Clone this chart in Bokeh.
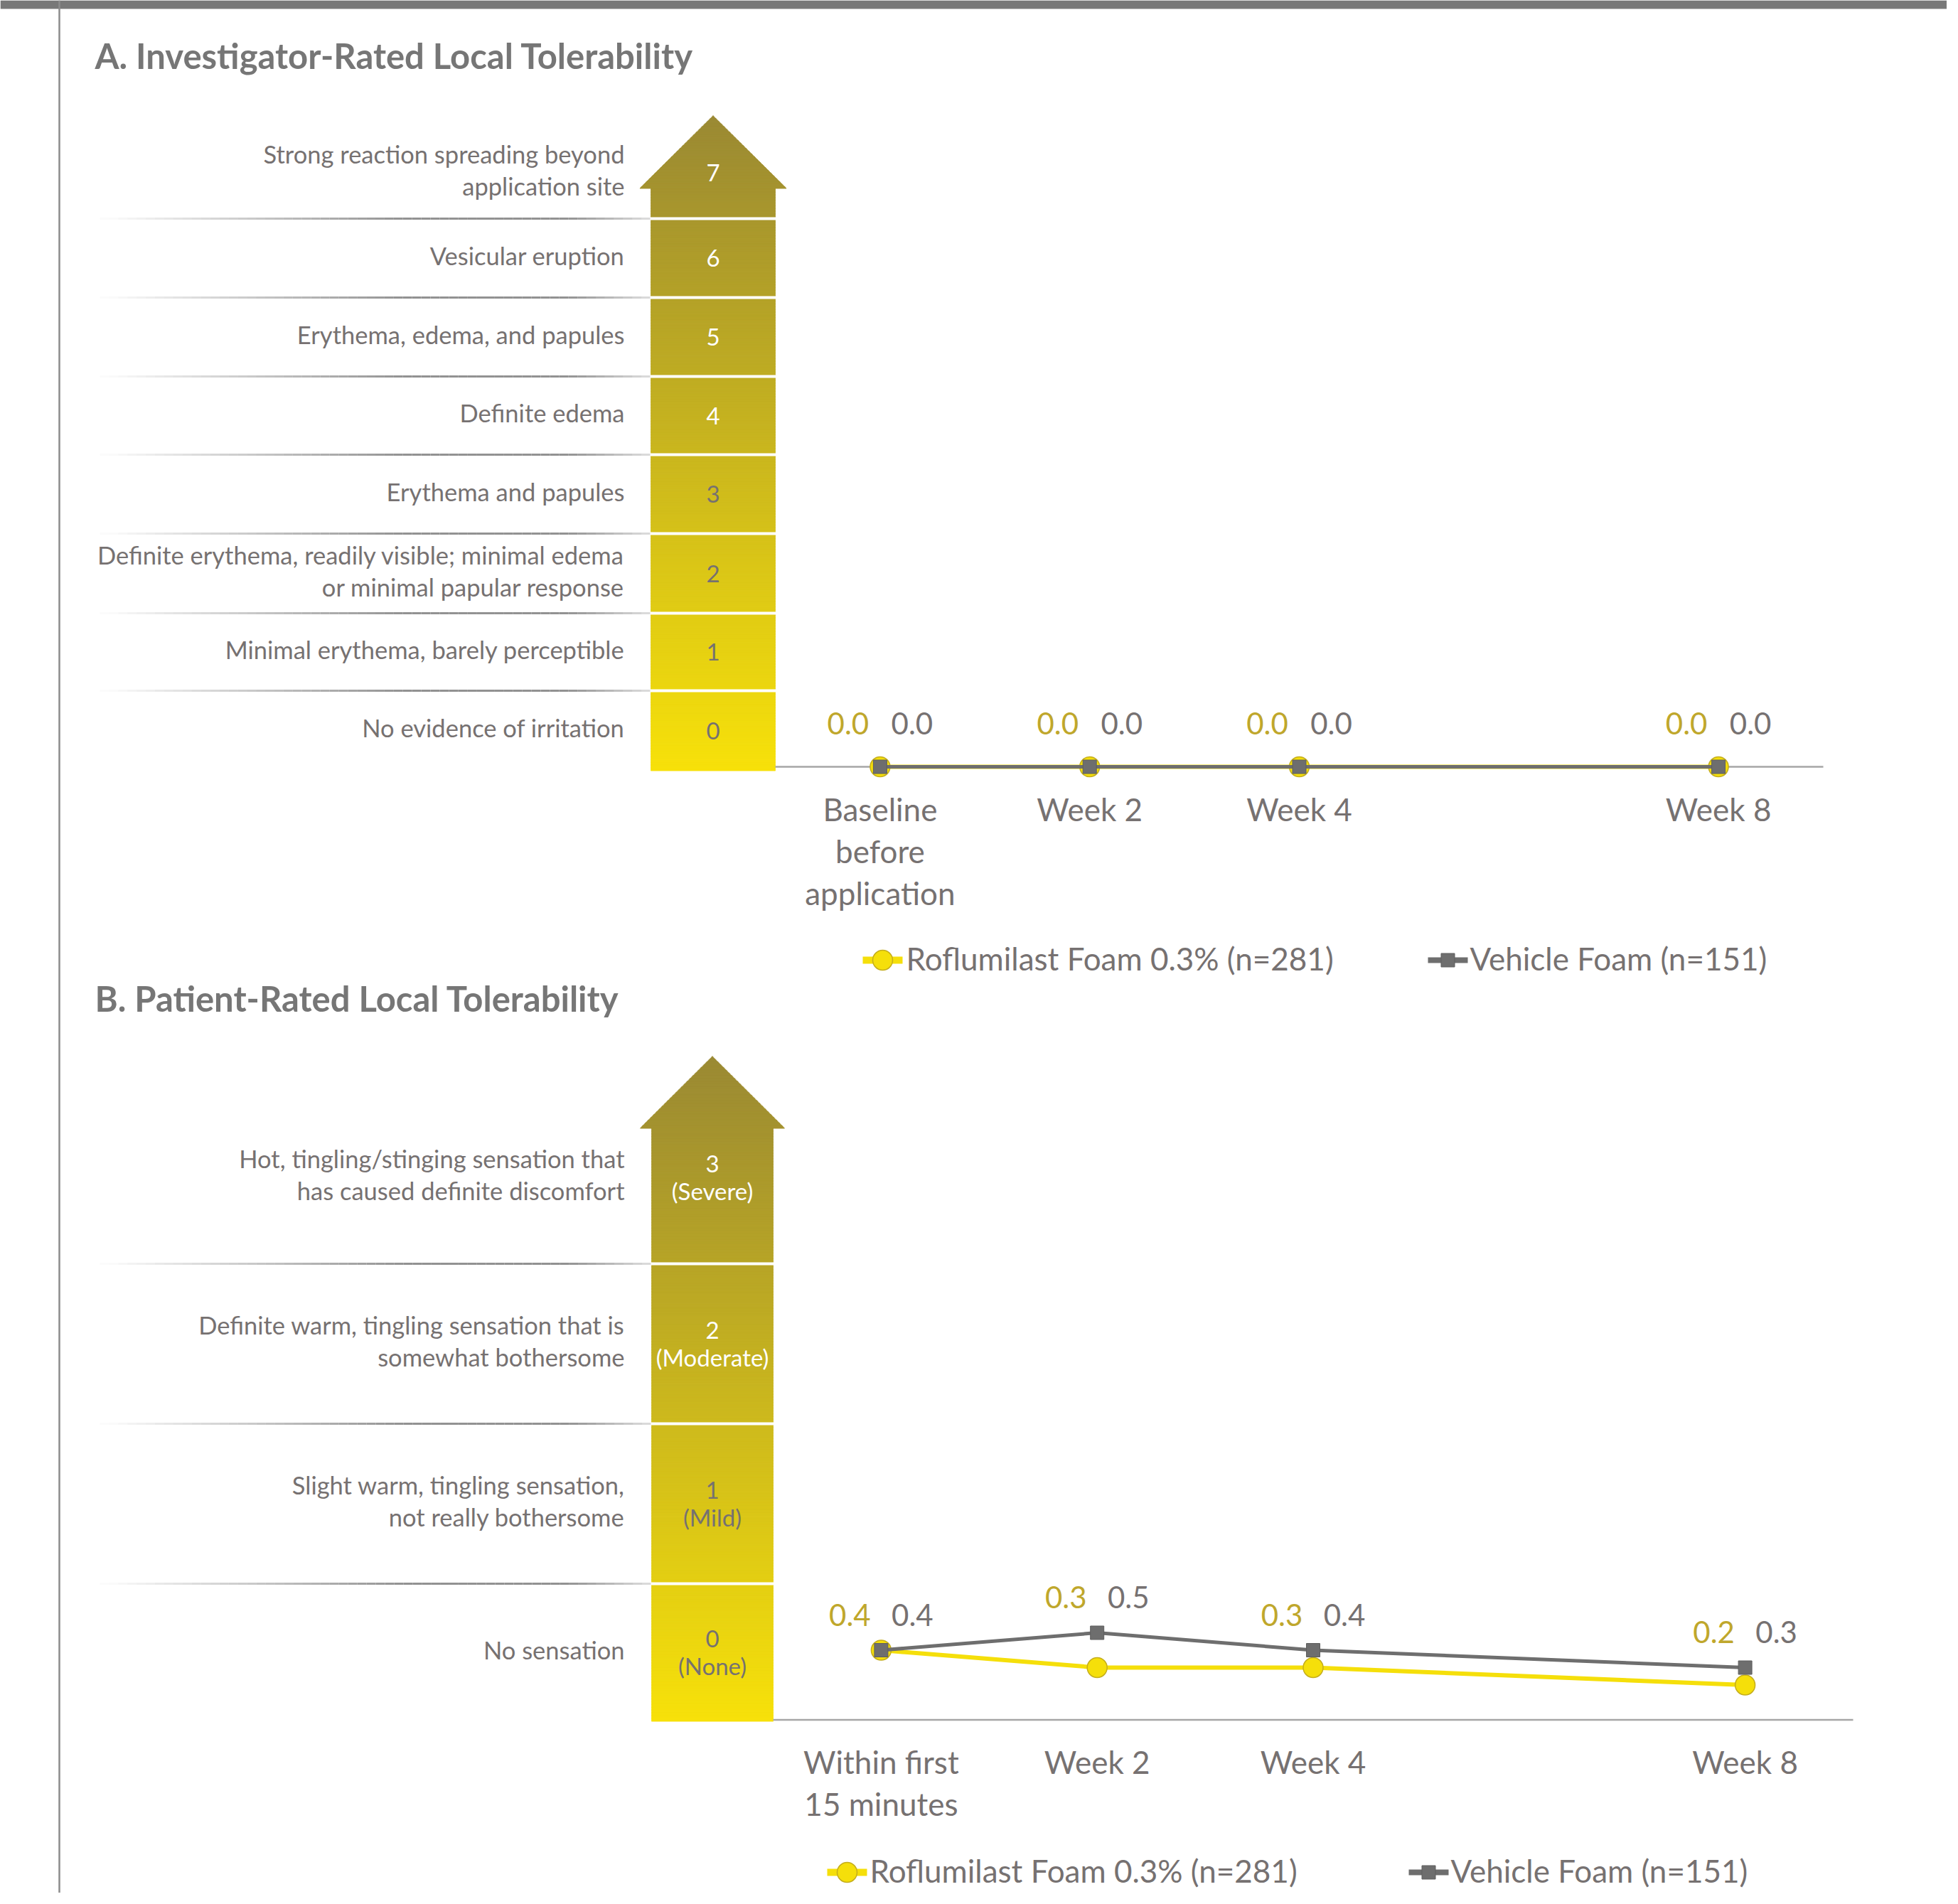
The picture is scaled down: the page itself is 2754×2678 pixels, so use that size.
import numpy as np
from bokeh.plotting import figure
from bokeh.models import Range1d, ColumnDataSource
from bokeh.core.properties import value
from bokeh.embed import file_html
from bokeh.resources import INLINE

# ---------------- data ----------------
title_A = "A. Investigator-Rated Local Tolerability"
title_B = "B. Patient-Rated Local Tolerability"

scale_A_levels = ["0", "1", "2", "3", "4", "5", "6", "7"]
scale_A_labels = [
    "No evidence of irritation",
    "Minimal erythema, barely perceptible",
    "Definite erythema, readily visible; minimal edema\nor minimal papular response",
    "Erythema and papules",
    "Definite edema",
    "Erythema, edema, and papules",
    "Vesicular eruption",
    "Strong reaction spreading beyond\napplication site",
]
scale_B_levels = ["0\n(None)", "1\n(Mild)", "2\n(Moderate)", "3\n(Severe)"]
scale_B_labels = [
    "No sensation",
    "Slight warm, tingling sensation,\nnot really bothersome",
    "Definite warm, tingling sensation that is\nsomewhat bothersome",
    "Hot, tingling/stinging sensation that\nhas caused definite discomfort",
]

weeks = [0, 2, 4, 8]
cats_A = ["Baseline\nbefore\napplication", "Week 2", "Week 4", "Week 8"]
cats_B = ["Within first\n15 minutes", "Week 2", "Week 4", "Week 8"]
rofl_A = [0.0, 0.0, 0.0, 0.0]
veh_A = [0.0, 0.0, 0.0, 0.0]
rofl_B = [0.4, 0.3, 0.3, 0.2]
veh_B = [0.4, 0.5, 0.4, 0.3]
series_names = ["Roflumilast Foam 0.3% (n=281)", "Vehicle Foam (n=151)"]

# ---------------- style ----------------
FONT = value("Lato")
GRAY_TXT = "#767171"
TITLE_C = "#767676"
YEL = "#f5df0a"
YEL_EDGE = "#c4ad1c"
YEL_TXT = "#bfa72c"
VEH = "#6e6e6e"
AXIS_C = "#a6a6a6"
TOP_C = (154, 137, 51)
BOT_C = (247, 225, 10)

W, H = 2738, 2662
OFF = 0

p = figure(width=W, height=H, x_range=Range1d(OFF, OFF + W), y_range=Range1d(OFF + H, OFF),
           output_backend="svg", toolbar_location=None, x_axis_location=None,
           y_axis_location=None, min_border=0, outline_line_color=None)
p.grid.visible = False
p.background_fill_color = "white"
p.border_fill_color = "white"

# page frame decorations
p.quad(left=[0], right=[2754], top=[0], bottom=[12], fill_color="#787878", line_color=None)
p.segment(x0=[83], x1=[83], y0=[0], y1=[2678], line_color="#8c8c8c", line_width=2.5)


def arrow(xl, xr, hxl, hxr, tip, head_base, bottom, n=240):
    ys = np.unique(np.concatenate([np.linspace(tip, bottom, n + 1), [head_base]]))
    xs_l, ys_l, cols = [], [], []
    xc = (xl + xr) / 2
    for y0, y1 in zip(ys[:-1], ys[1:]):
        if y1 <= head_base + 1e-9:
            h0 = (hxr - hxl) / 2 * (y0 - tip) / (head_base - tip)
            h1 = (hxr - hxl) / 2 * (y1 - tip) / (head_base - tip)
        else:
            h0 = h1 = (xr - xl) / 2
        xs_l.append([xc - h0, xc + h0, xc + h1, xc - h1])
        ys_l.append([y0, y0, y1 + 0.6, y1 + 0.6])
        t = ((y0 + y1) / 2 - tip) / (bottom - tip)
        c = tuple(int(round(a + (b - a) * t)) for a, b in zip(TOP_C, BOT_C))
        cols.append("#%02x%02x%02x" % c)
    p.patches(xs=xs_l, ys=ys_l, fill_color=cols, line_color=cols, line_width=0.8)


def separators(seps, x_start, xl, xr):
    n = 60
    xs = np.linspace(x_start, xl, n + 1)
    for y in seps:
        x0s, x1s, alphas = [], [], []
        for a, b in zip(xs[:-1], xs[1:]):
            t = ((a + b) / 2 - x_start) / (xl - x_start)
            if t < 0.55:
                al = t / 0.55
            elif t < 0.85:
                al = 1.0
            else:
                al = 1.0 - (t - 0.85) / 0.15 * 0.7
            x0s.append(a); x1s.append(b); alphas.append(max(0.03, al) * 0.85)
        p.segment(x0=x0s, x1=x1s, y0=[y] * n, y1=[y] * n, line_color="#7f7f7f",
                  line_alpha=alphas, line_width=3)
        p.segment(x0=[xl - 1], x1=[xr + 1], y0=[y], y1=[y], line_color="white", line_width=4)


def multiline_text(x, yc, txt, spacing, **kw):
    lines = txt.split("\n")
    n = len(lines)
    ys = [yc + (i - (n - 1) / 2) * spacing for i in range(n)]
    p.text(x=[x] * n, y=ys, text=lines, text_font=FONT, text_baseline="middle", **kw)


def scale_panel(levels, labels, seps, bottom, tip, head_base, xl, xr, hxl, hxr, n_white,
                num_spacing, num_size):
    arrow(xl, xr, hxl, hxr, tip, head_base, bottom)
    separators(seps, 140, xl, xr)
    bounds = [bottom] + list(seps)
    xc = (xl + xr) / 2
    for k, (lev, lab) in enumerate(zip(levels, labels)):
        if k < len(seps):
            yc = (bounds[k] + bounds[k + 1]) / 2
        else:
            h = bounds[k - 1] - bounds[k]
            yc = bounds[k] - h / 2 - 9
        multiline_text(878, yc - 4, lab, 45, text_align="right", text_color=GRAY_TXT,
                       text_font_size="34.5px")
        col = "white" if k >= len(levels) - n_white else GRAY_TXT
        multiline_text(xc, yc, lev, num_spacing, text_align="center", text_color=col,
                       text_font_size=num_size)


# ---------------- titles ----------------
p.text(x=[133], y=[77], text=[title_A], text_font=FONT, text_font_style="bold",
       text_font_size="49px", text_color=TITLE_C, text_baseline="middle")
p.text(x=[133], y=[1403], text=[title_B], text_font=FONT, text_font_style="bold",
       text_font_size="49px", text_color=TITLE_C, text_baseline="middle")

# ---------------- scales (arrows) ----------------
scale_panel(scale_A_levels, scale_A_labels, [971, 862, 750, 639, 529, 418, 307],
            1083, 162, 264, 915, 1090, 900, 1106, 4, 38, "33px")
scale_panel(scale_B_levels, scale_B_labels, [2227, 2002, 1777],
            2420, 1485, 1586, 916, 1087, 900, 1103, 2, 38, "33px")


# ---------------- line charts ----------------
def chart(name, px_left, px_right, px_zero, px_per_unit, x_lo, x_hi, cats, rofl, veh,
          lab_dx, lab_dy, legend_y, legend_x):
    sx = (px_right - px_left) / (x_hi - x_lo)
    a = px_left - sx * x_lo
    p.extra_x_ranges[name] = Range1d((OFF - a) / sx, (OFF + W - a) / sx)
    p.extra_y_ranges[name] = Range1d((px_zero - (OFF + H)) / px_per_unit,
                                     (px_zero - OFF) / px_per_unit)
    rn = dict(x_range_name=name, y_range_name=name)
    # axis line
    p.segment(x0=[x_lo], x1=[x_hi], y0=[0], y1=[0], line_color=AXIS_C, line_width=2.5, **rn)
    src = ColumnDataSource(dict(x=weeks, r=rofl, v=veh, top=[max(r, v) for r, v in zip(rofl, veh)],
                                rl=["%.1f" % r for r in rofl], vl=["%.1f" % v for v in veh]))
    p.line("x", "r", source=src, line_color=YEL, line_width=6, **rn)
    p.scatter("x", "r", source=src, marker="circle", size=28, fill_color=YEL,
              line_color=YEL_EDGE, line_width=1.5, **rn)
    p.line("x", "v", source=src, line_color=VEH, line_width=5, **rn)
    p.scatter("x", "v", source=src, marker="square", size=19, fill_color=VEH,
              line_color="#5e5e5e", line_width=1, **rn)
    # data labels
    p.text("x", "top", text="rl", source=src, x_offset=-lab_dx, y_offset=-lab_dy,
           text_align="center", text_baseline="middle", text_font=FONT,
           text_font_size="42px", text_color=YEL_TXT, **rn)
    p.text("x", "top", text="vl", source=src, x_offset=lab_dx, y_offset=-lab_dy,
           text_align="center", text_baseline="middle", text_font=FONT,
           text_font_size="42px", text_color=GRAY_TXT, **rn)
    # category labels
    cx, cy, ct, co = [], [], [], []
    for w, c in zip(weeks, cats):
        for i, line in enumerate(c.split("\n")):
            cx.append(w); cy.append(0); ct.append(line); co.append(59 + 59 * i)
    p.text(x=cx, y=cy, text=ct, y_offset=co, text_align="center", text_baseline="middle",
           text_font=FONT, text_font_size="44px", text_color=GRAY_TXT, **rn)
    # legend
    for (x_mid, tx), nm, kind in zip(legend_x, series_names, ["r", "v"]):
        if kind == "r":
            p.segment(x0=[x_mid - 28], x1=[x_mid + 28], y0=[legend_y], y1=[legend_y],
                      line_color=YEL, line_width=10)
            p.scatter(x=[x_mid], y=[legend_y], marker="circle", size=28, fill_color=YEL,
                      line_color=YEL_EDGE, line_width=1.5)
        else:
            p.segment(x0=[x_mid - 28], x1=[x_mid + 28], y0=[legend_y], y1=[legend_y],
                      line_color=VEH, line_width=8)
            p.scatter(x=[x_mid], y=[legend_y], marker="square", size=19, fill_color=VEH,
                      line_color="#5e5e5e", line_width=1)
        p.text(x=[tx], y=[legend_y - 3], text=[nm], text_align="left", text_baseline="middle",
               text_font=FONT, text_font_size="44px", text_color=GRAY_TXT)


chart("A", 1090, 2564, 1078, 111, -1, 9, cats_A, rofl_A, veh_A, 45, 61, 1350,
      [(1241, 1274), (2036, 2067)])
chart("B", 1087, 2606, 2418.5, 245, -1, 9, cats_B, rofl_B, veh_B, 44, 50, 2633,
      [(1191, 1223), (2009, 2040)])

open("out.html", "w").write(file_html(p, INLINE))
